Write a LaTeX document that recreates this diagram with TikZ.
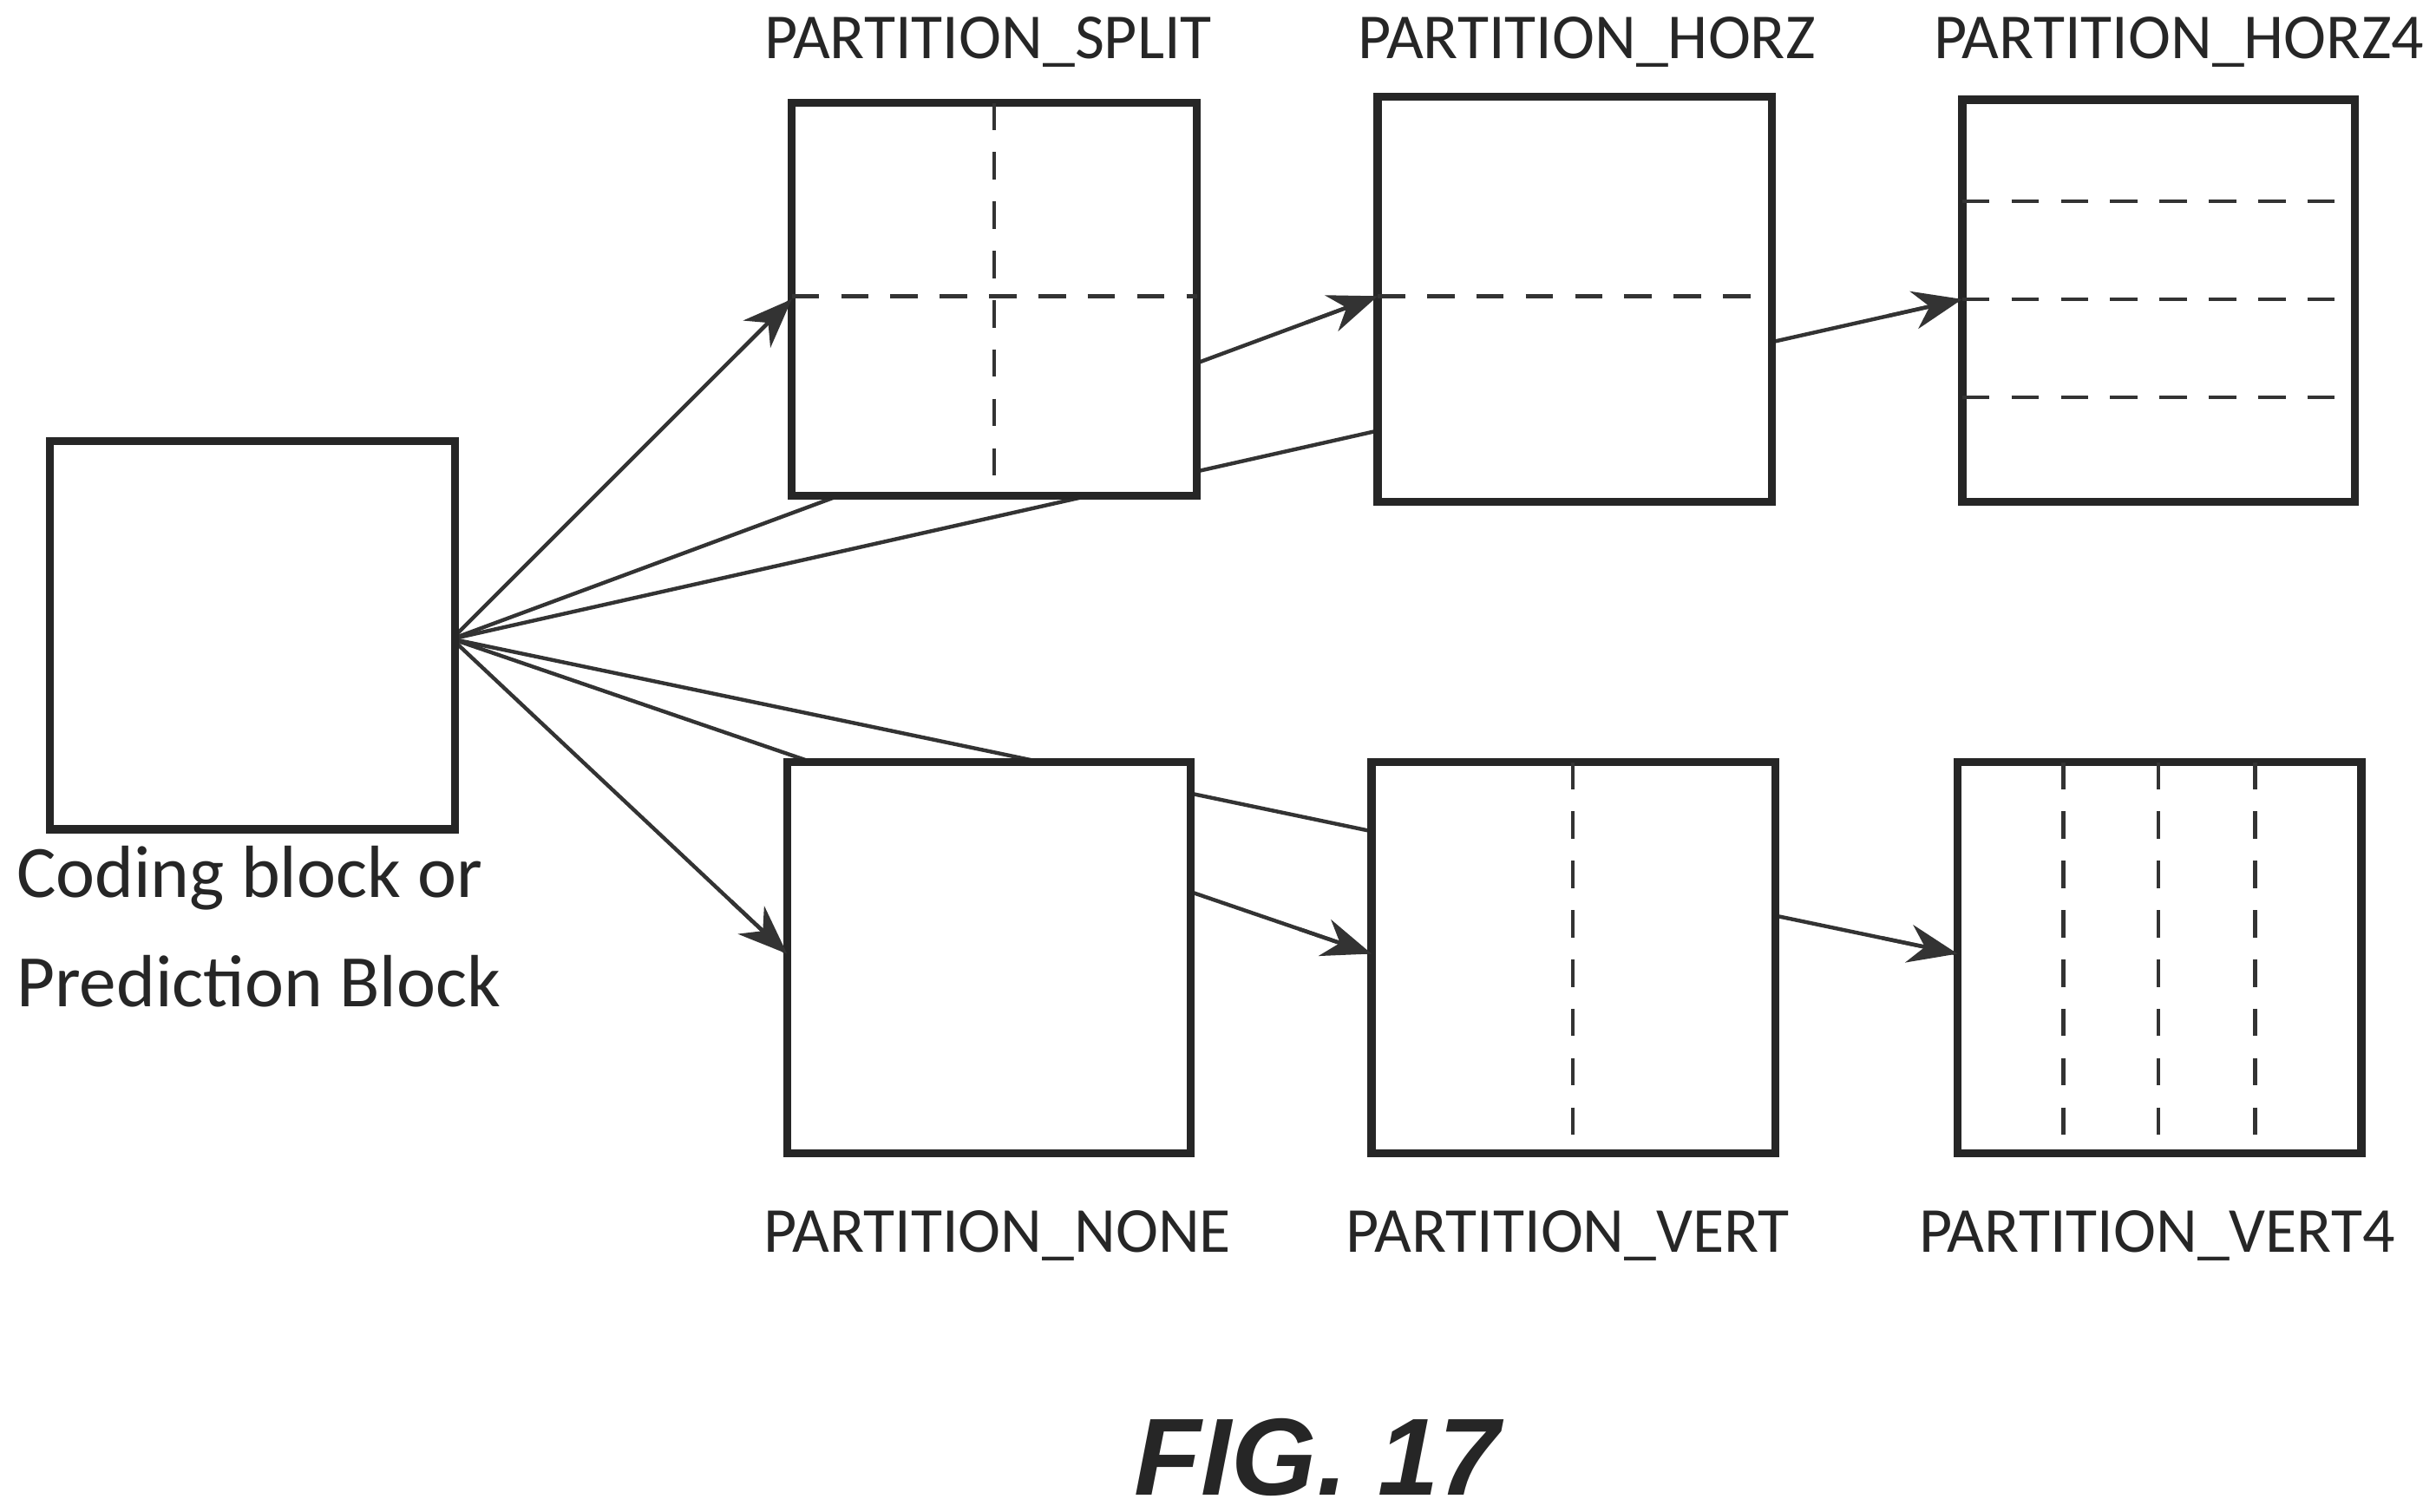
\documentclass[tikz,border=0pt]{standalone}
\usepackage{fontspec}
\setmainfont{Carlito}
\newfontfamily\figfont{Liberation Sans}
\usetikzlibrary{arrows.meta,calc}
\begin{document}
\begin{tikzpicture}[x=0.01cm,y=-0.01cm,
  box/.style={draw=black!85,line width=1.5pt,fill=white},
  dsh/.style={draw=black!80,line width=0.7pt,dash pattern=on 5pt off 4pt},
  ln/.style={draw=black!80,line width=0.7pt},
  arr/.style={draw=black!80,line width=0.7pt,-{Stealth[length=9pt,width=7pt]}},
  lab/.style={font=\fontsize{11.7pt}{14pt}\selectfont,text=black!85}]
\useasboundingbox (0,0) rectangle (1563,970);
\coordinate (o) at (290,410);
\coordinate (tS) at (508,192);
\coordinate (tH) at (884,190);
\coordinate (tH4) at (1259,192);
\coordinate (tN) at (505,612);
\coordinate (tV) at (880,612);
\coordinate (tV4) at (1256,612);
\foreach \t in {tS,tH,tH4,tN,tV,tV4} \draw[ln] (o) -- (\t);
\draw[box] (32,283) rectangle (292,532);
\draw[box] (508,66) rectangle (768,318);
\draw[dsh] (638,66) -- (638,318); \draw[dsh] (508,190) -- (768,190);
\draw[box] (884,62) rectangle (1137,322);
\draw[dsh] (884,190) -- (1137,190);
\draw[box] (1259,64) rectangle (1511,322);
\foreach \y in {129,192,255} \draw[dsh] (1259,\y) -- (1511,\y);
\draw[box] (505,489) rectangle (764,740);
\draw[box] (880,489) rectangle (1139,740);
\draw[dsh] (1009,489) -- (1009,740);
\draw[box] (1256,489) rectangle (1515,740);
\foreach \x in {1324,1385,1447} \draw[dsh] (\x,489) -- (\x,740);
\foreach \t in {tS,tH,tH4,tN,tV,tV4} \draw[arr] ($(\t)!14pt!(o)$) -- (\t);
\node[lab] (l1) at (634,27) {PARTITION\_SPLIT};
\node[lab] (l2) at (1018,27) {PARTITION\_HORZ};
\node[lab] (l3) at (1398,27) {PARTITION\_HORZ4};
\node[lab] (l4) at (640,793) {PARTITION\_NONE};
\node[lab] (l5) at (1006,793) {PARTITION\_VERT};
\node[lab] (l6) at (1384,793) {PARTITION\_VERT4};
\node[align=left,anchor=north west,font=\fontsize{13.5pt}{20pt}\selectfont,text=black!85,inner sep=0pt] (cap) at (10,542) {Coding block or\\Prediction Block};
\node[font=\figfont\bfseries\itshape\fontsize{20pt}{24pt}\selectfont,text=black!85] (fig) at (845,935) {FIG. 17};
\end{tikzpicture}
\end{document}
